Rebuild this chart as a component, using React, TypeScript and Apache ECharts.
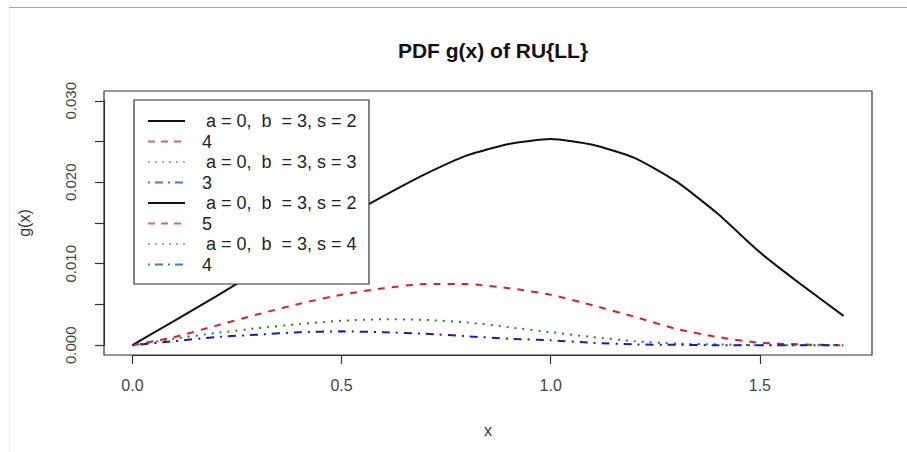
import React, { useEffect, useRef } from "react";
import * as echarts from "echarts";

// x grid of the curves
const xValues = [0, 0.1, 0.2, 0.3, 0.4, 0.5, 0.6, 0.7, 0.8, 0.9, 1.0, 1.1, 1.2, 1.3, 1.4, 1.5, 1.6, 1.7];
// black solid
const blackValues = [0, 0.0030, 0.0060, 0.0091, 0.0122, 0.0154, 0.0183, 0.0210, 0.0233, 0.0247, 0.0253, 0.0246, 0.0230, 0.0201, 0.0161, 0.0114, 0.0074, 0.0036];
// red dashed
const redValues = [0, 0.0010, 0.0024, 0.0038, 0.0051, 0.0062, 0.0070, 0.0075, 0.0075, 0.0070, 0.0062, 0.0049, 0.0035, 0.0020, 0.0010, 0.0003, 0.0001, 0.0000];
// green dotted
const greenValues = [0, 0.0008, 0.0015, 0.0021, 0.0026, 0.0030, 0.0032, 0.0031, 0.0028, 0.0022, 0.0016, 0.0010, 0.0005, 0.0002, 0.0001, 0, 0, 0];
// blue dash-dot
const blueValues = [0, 0.0005, 0.0010, 0.0013, 0.0016, 0.0017, 0.0016, 0.0014, 0.0011, 0.0008, 0.0006, 0.0003, 0.0001, 0.00005, 0, 0, 0, 0];

const legendLabels = [
  "a = 0,  b  = 3, s = 2",
  "4",
  "a = 0,  b  = 3, s = 3",
  "3",
  "a = 0,  b  = 3, s = 2",
  "5",
  "a = 0,  b  = 3, s = 4",
  "4",
];
const xTickLabels = ["0.0", "0.5", "1.0", "1.5"];
const yTickLabels = ["0.000", "0.010", "0.020", "0.030"];

const FONT = "Liberation Sans, Arial, sans-serif";
const RED = "#d8202c";
const GREEN = "#2f7d2f";
const BLUE = "#1c1ca8";

const legendStyles = [
  { color: "#111", dash: null as number[] | null },
  { color: "#d9607a", dash: [7, 6] },
  { color: "#8fbf8f", dash: [2, 5] },
  { color: "#3f7fc0", dash: [2, 5, 8, 5] },
];

export default function App() {
  const ref = useRef<HTMLDivElement>(null);
  useEffect(() => {
    if (!ref.current) return;
    const chart = echarts.init(ref.current, null, { renderer: "svg" });
    const pairs = (ys: number[]) => xValues.map((x, i) => [x, ys[i]]);

    const L = 104, T = 91, W = 768, H = 264;
    const xmin = -0.068, xmax = 1.768, ymin = -0.0012, ymax = 0.0312;
    const px = (x: number) => L + ((x - xmin) / (xmax - xmin)) * W;
    const py = (y: number) => T + H - ((y - ymin) / (ymax - ymin)) * H;

    const legendX = 134, legendY = 100, legendW = 235, legendH = 184;
    const rowY0 = 121, rowStep = 20.5;
    const legendEls: any[] = [
      {
        type: "rect", z: 100,
        shape: { x: legendX, y: legendY, width: legendW, height: legendH },
        style: { fill: "#fff", stroke: "#333", lineWidth: 1.2 },
      },
    ];
    legendLabels.forEach((lab, i) => {
      const st = legendStyles[i % 4];
      const y = rowY0 + i * rowStep;
      legendEls.push({
        type: "line", z: 101,
        shape: { x1: 148, y1: y, x2: 185, y2: y },
        style: { stroke: st.color, lineWidth: 2, lineDash: st.dash || undefined },
      });
      legendEls.push({
        type: "text", z: 101,
        x: lab.length > 2 ? 206 : 202,
        y: y,
        style: { text: lab, font: `18px ${FONT}`, fill: "#222", textVerticalAlign: "middle" },
      });
    });

    chart.setOption({
      animation: false,
      backgroundColor: "#fff",
      title: {
        text: "PDF g(x) of RU{LL}",
        left: L + W / 2,
        textAlign: "center",
        top: 35,
        textStyle: { fontFamily: FONT, fontSize: 21, fontWeight: "bold", color: "#111" },
      },
      grid: [
        { left: L, top: T, width: W, height: H, show: true, borderColor: "#333", borderWidth: 1.2, backgroundColor: "transparent" },
        { left: px(0), top: T, width: px(1.5) - px(0), height: H },
        { left: L, top: py(0.03), width: W, height: py(0) - py(0.03) },
      ],
      xAxis: [
        {
          gridIndex: 0, type: "value", min: xmin, max: xmax,
          axisLine: { show: false }, axisTick: { show: false }, axisLabel: { show: false }, splitLine: { show: false },
          name: "x", nameLocation: "middle", nameGap: 67,
          nameTextStyle: { fontFamily: FONT, fontSize: 16, color: "#333" },
        },
        {
          gridIndex: 1, type: "value", min: 0, max: 1.5, interval: 0.5,
          axisLine: { show: true, lineStyle: { color: "#333", width: 1.2 } },
          axisTick: { show: true, length: 9, lineStyle: { color: "#333", width: 1.2 } },
          splitLine: { show: false },
          axisLabel: {
            margin: 22, fontFamily: FONT, fontSize: 16, color: "#444",
            formatter: (v: number) => xTickLabels[Math.round(v / 0.5)] ?? "",
          },
        },
        { gridIndex: 2, type: "value", show: false },
      ],
      yAxis: [
        {
          gridIndex: 0, type: "value", min: ymin, max: ymax,
          axisLine: { show: false }, axisTick: { show: false }, axisLabel: { show: false }, splitLine: { show: false },
          name: "g(x)", nameLocation: "middle", nameGap: 72,
          nameTextStyle: { fontFamily: FONT, fontSize: 16, color: "#333" },
        },
        { gridIndex: 1, type: "value", show: false },
        {
          gridIndex: 2, type: "value", min: 0, max: 0.03, interval: 0.005,
          axisLine: { show: true, lineStyle: { color: "#333", width: 1.2 } },
          axisTick: { show: true, length: 9, lineStyle: { color: "#333", width: 1.2 } },
          splitLine: { show: false },
          axisLabel: {
            margin: 26, rotate: 90, fontFamily: FONT, fontSize: 15, color: "#444",
            formatter: (v: number) => {
              const k = Math.round(v / 0.005);
              return k % 2 === 0 ? yTickLabels[k / 2] ?? "" : "";
            },
          },
        },
      ],
      series: [
        {
          type: "line", xAxisIndex: 0, yAxisIndex: 0, data: pairs(blackValues), smooth: 0.2,
          showSymbol: false, lineStyle: { color: "#111", width: 2 }, z: 2,
        },
        {
          type: "line", xAxisIndex: 0, yAxisIndex: 0, data: pairs(redValues), smooth: 0.2,
          showSymbol: false, lineStyle: { color: RED, width: 2, type: [7, 7], cap: "butt" }, z: 2,
        },
        {
          type: "line", xAxisIndex: 0, yAxisIndex: 0, data: pairs(greenValues), smooth: 0.2,
          showSymbol: false, lineStyle: { color: GREEN, width: 2, type: [2, 6], cap: "butt" }, z: 2,
        },
        {
          type: "line", xAxisIndex: 0, yAxisIndex: 0, data: pairs(blueValues), smooth: 0.2,
          showSymbol: false, lineStyle: { color: BLUE, width: 2, type: [2, 6, 8, 6], cap: "butt" }, z: 2,
        },
      ],
      graphic: {
        elements: [
          {
            type: "line", z: 1,
            shape: { x1: 9, y1: 7.5, x2: 907, y2: 7.5 },
            style: { stroke: "#a8a8a8", lineWidth: 1 },
          },
          {
            type: "line", z: 1,
            shape: { x1: 9.5, y1: 8, x2: 9.5, y2: 452 },
            style: { stroke: "#ececec", lineWidth: 1 },
          },
          ...legendEls,
        ],
      },
    });
    return () => chart.dispose();
  }, []);
  return (
    <div
      ref={ref}
      style={{ position: "fixed", left: 0, top: 0, width: 907, height: 452, background: "#fff" }}
    />
  );
}
